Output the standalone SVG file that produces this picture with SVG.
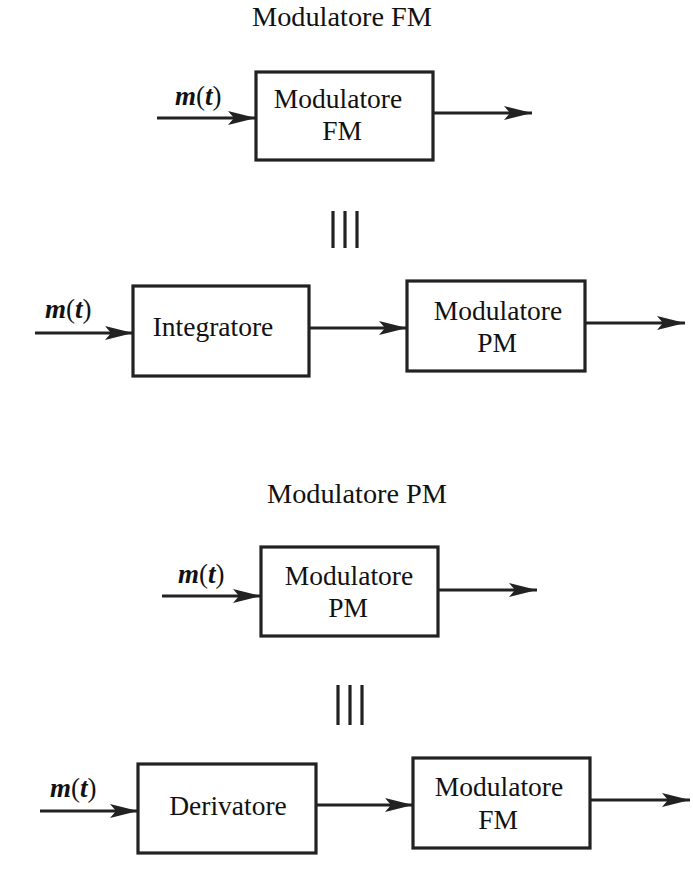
<svg xmlns="http://www.w3.org/2000/svg" width="693" height="880" viewBox="0 0 693 880">
<defs>
<style>
.box{fill:#fff;stroke:#222;stroke-width:3.2}
.ln{stroke:#222;stroke-width:3.2;fill:none}
.t{font-family:"Liberation Serif","Times New Roman",serif;font-size:27.5px;fill:#111;text-anchor:middle}
.h{font-size:28.3px}
.m{font-family:"Liberation Serif","Times New Roman",serif;font-size:27px;font-weight:bold;font-style:italic;fill:#111}
.m tspan.p{font-style:normal;font-weight:normal}
</style>
<marker id="arr" viewBox="0 0 28 14" refX="28" refY="7" markerWidth="28" markerHeight="14" markerUnits="userSpaceOnUse" orient="auto">
<path d="M0,0 L28,7 L0,14 L6,7 Z" fill="#222"/>
</marker>
</defs>
<rect width="693" height="880" fill="#fff"/>
<text class="t h" x="342" y="26">Modulatore FM</text>
<text class="t h" x="357" y="503">Modulatore PM</text>

<g id="connectors">
<line class="ln" x1="157" y1="118" x2="256" y2="118" marker-end="url(#arr)"/>
<line class="ln" x1="433" y1="113" x2="532" y2="113" marker-end="url(#arr)"/>
<line class="ln" x1="35" y1="333" x2="133" y2="333" marker-end="url(#arr)"/>
<line class="ln" x1="309" y1="328" x2="407" y2="328" marker-end="url(#arr)"/>
<line class="ln" x1="585" y1="323" x2="685" y2="323" marker-end="url(#arr)"/>
<line class="ln" x1="162" y1="596" x2="261" y2="596" marker-end="url(#arr)"/>
<line class="ln" x1="438" y1="590" x2="537" y2="590" marker-end="url(#arr)"/>
<line class="ln" x1="40" y1="811" x2="138" y2="811" marker-end="url(#arr)"/>
<line class="ln" x1="316" y1="805" x2="413" y2="805" marker-end="url(#arr)"/>
<line class="ln" x1="590" y1="800" x2="690" y2="800" marker-end="url(#arr)"/>
</g>

<g id="labels">
<text class="m" x="175" y="105">m<tspan class="p">(</tspan>t<tspan class="p">)</tspan></text>
<text class="m" x="45" y="318">m<tspan class="p">(</tspan>t<tspan class="p">)</tspan></text>
<text class="m" x="178" y="583">m<tspan class="p">(</tspan>t<tspan class="p">)</tspan></text>
<text class="m" x="50" y="797">m<tspan class="p">(</tspan>t<tspan class="p">)</tspan></text>
</g>

<g id="equiv1">
<line class="ln" x1="333" y1="211" x2="333" y2="248"/>
<line class="ln" x1="345" y1="211" x2="345" y2="248"/>
<line class="ln" x1="357" y1="211" x2="357" y2="248"/>
</g>
<g id="equiv2">
<line class="ln" x1="338" y1="685" x2="338" y2="725"/>
<line class="ln" x1="350" y1="685" x2="350" y2="725"/>
<line class="ln" x1="362" y1="685" x2="362" y2="725"/>
</g>

<g id="fm1">
<rect class="box" x="256" y="72" width="177" height="88"/>
<text class="t" x="338" y="108">Modulatore</text>
<text class="t" x="342" y="140">FM</text>
</g>
<g id="integratore">
<rect class="box" x="133" y="286" width="176" height="90"/>
<text class="t" x="213" y="336">Integratore</text>
</g>
<g id="pm1">
<rect class="box" x="407" y="281" width="178" height="90"/>
<text class="t" x="498" y="320">Modulatore</text>
<text class="t" x="497" y="352">PM</text>
</g>
<g id="pm2">
<rect class="box" x="261" y="547" width="177" height="89"/>
<text class="t" x="349" y="585">Modulatore</text>
<text class="t" x="348" y="617">PM</text>
</g>
<g id="derivatore">
<rect class="box" x="138" y="764" width="178" height="89"/>
<text class="t" x="228" y="815">Derivatore</text>
</g>
<g id="fm2">
<rect class="box" x="413" y="758" width="177" height="90"/>
<text class="t" x="499" y="796">Modulatore</text>
<text class="t" x="498" y="829">FM</text>
</g>
</svg>
